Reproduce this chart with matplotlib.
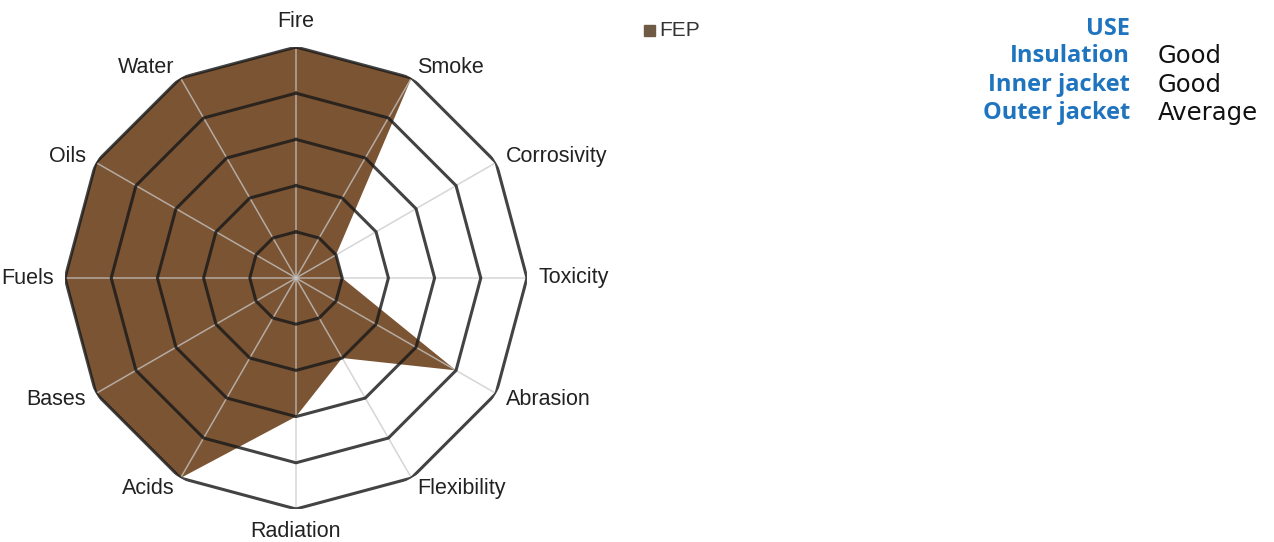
import numpy as np
import matplotlib
matplotlib.use("Agg")
import matplotlib.pyplot as plt

categories = ["Fire", "Smoke", "Corrosivity", "Toxicity", "Abrasion", "Flexibility",
              "Radiation", "Acids", "Bases", "Fuels", "Oils", "Water"]
fep_values = [5, 5, 1, 1, 4, 2, 3, 5, 5, 5, 5, 5]
series_name = "FEP"
ring_levels = [1, 2, 3, 4, 5]
use_labels = ["Insulation", "Inner jacket", "Outer jacket"]
use_values = ["Good", "Good", "Average"]

W, H = 1274, 542
fig = plt.figure(figsize=(W / 100, H / 100), dpi=100)
cx, cy, R = 296, 278, 231
ax = fig.add_axes([(cx - R) / W, (H - cy - R) / H, 2 * R / W, 2 * R / H], projection="polar")
ax.set_theta_zero_location("N")
ax.set_theta_direction(-1)
ax.set_ylim(0, 5)
ax.grid(False)
ax.spines["polar"].set_visible(False)
ax.set_xticks([])
ax.set_yticks([])
ax.patch.set_alpha(0)

n = len(categories)
angles = np.linspace(0, 2 * np.pi, n, endpoint=False)
closed = np.concatenate([angles, angles[:1]])

fill_color = "#7B5433"
vals = np.array(fep_values + fep_values[:1], dtype=float)
ax.fill(closed, vals, color=fill_color, zorder=1, linewidth=0)

# spokes
for a in angles:
    ax.plot([a, a], [0, 5], color="#C8C8C8", lw=1.1, alpha=0.75, zorder=2)
# rings
for lv in ring_levels:
    ax.plot(closed, [lv] * (n + 1), color="#1A1A1A", lw=2.2, alpha=0.82, zorder=3)

label_font = dict(family=["Liberation Sans", "DejaVu Sans"], fontsize=15.5, color="#222222")
for a, lab in zip(angles, categories):
    deg = np.degrees(a) % 360
    if deg < 1 or abs(deg - 360) < 1:
        ax.text(a, 5.55, lab, ha="center", va="center", **label_font)
    elif abs(deg - 180) < 1:
        ax.text(a, 5.48, lab, ha="center", va="center", **label_font)
    elif deg < 180:
        ax.text(a, 5.25, lab, ha="left", va="center", **label_font)
    else:
        ax.text(a, 5.25, lab, ha="right", va="center", **label_font)

# legend
fig.patches.append(matplotlib.patches.Rectangle((644 / W, 1 - 36 / H), 11 / W, 11 / H,
                                                transform=fig.transFigure, color="#6E5A45"))
fig.text(659 / W, 1 - 30 / H, series_name, ha="left", va="center",
         family=["Liberation Sans", "DejaVu Sans"], fontsize=15, color="#333333")

# right side text
blue = "#1F74BF"
tfont = ["Open Sans", "DejaVu Sans"]
vfont = ["DejaVu Sans"]
xr = 1130 / W
xl = 1158 / W
fig.text(xr, 1 - 29 / H, "USE", ha="right", va="center", family=tfont,
         fontsize=17, fontweight="bold", color=blue)
for i, (lab, v) in enumerate(zip(use_labels, use_values)):
    y = 1 - (56 + 28.5 * i) / H
    fig.text(xr, y, lab, ha="right", va="center", family=tfont, fontsize=17,
             fontweight="bold", color=blue)
    fig.text(xl, y, v, ha="left", va="center", family=vfont, fontsize=17.5, color="#111111")

fig.savefig("out.png", dpi=100)
